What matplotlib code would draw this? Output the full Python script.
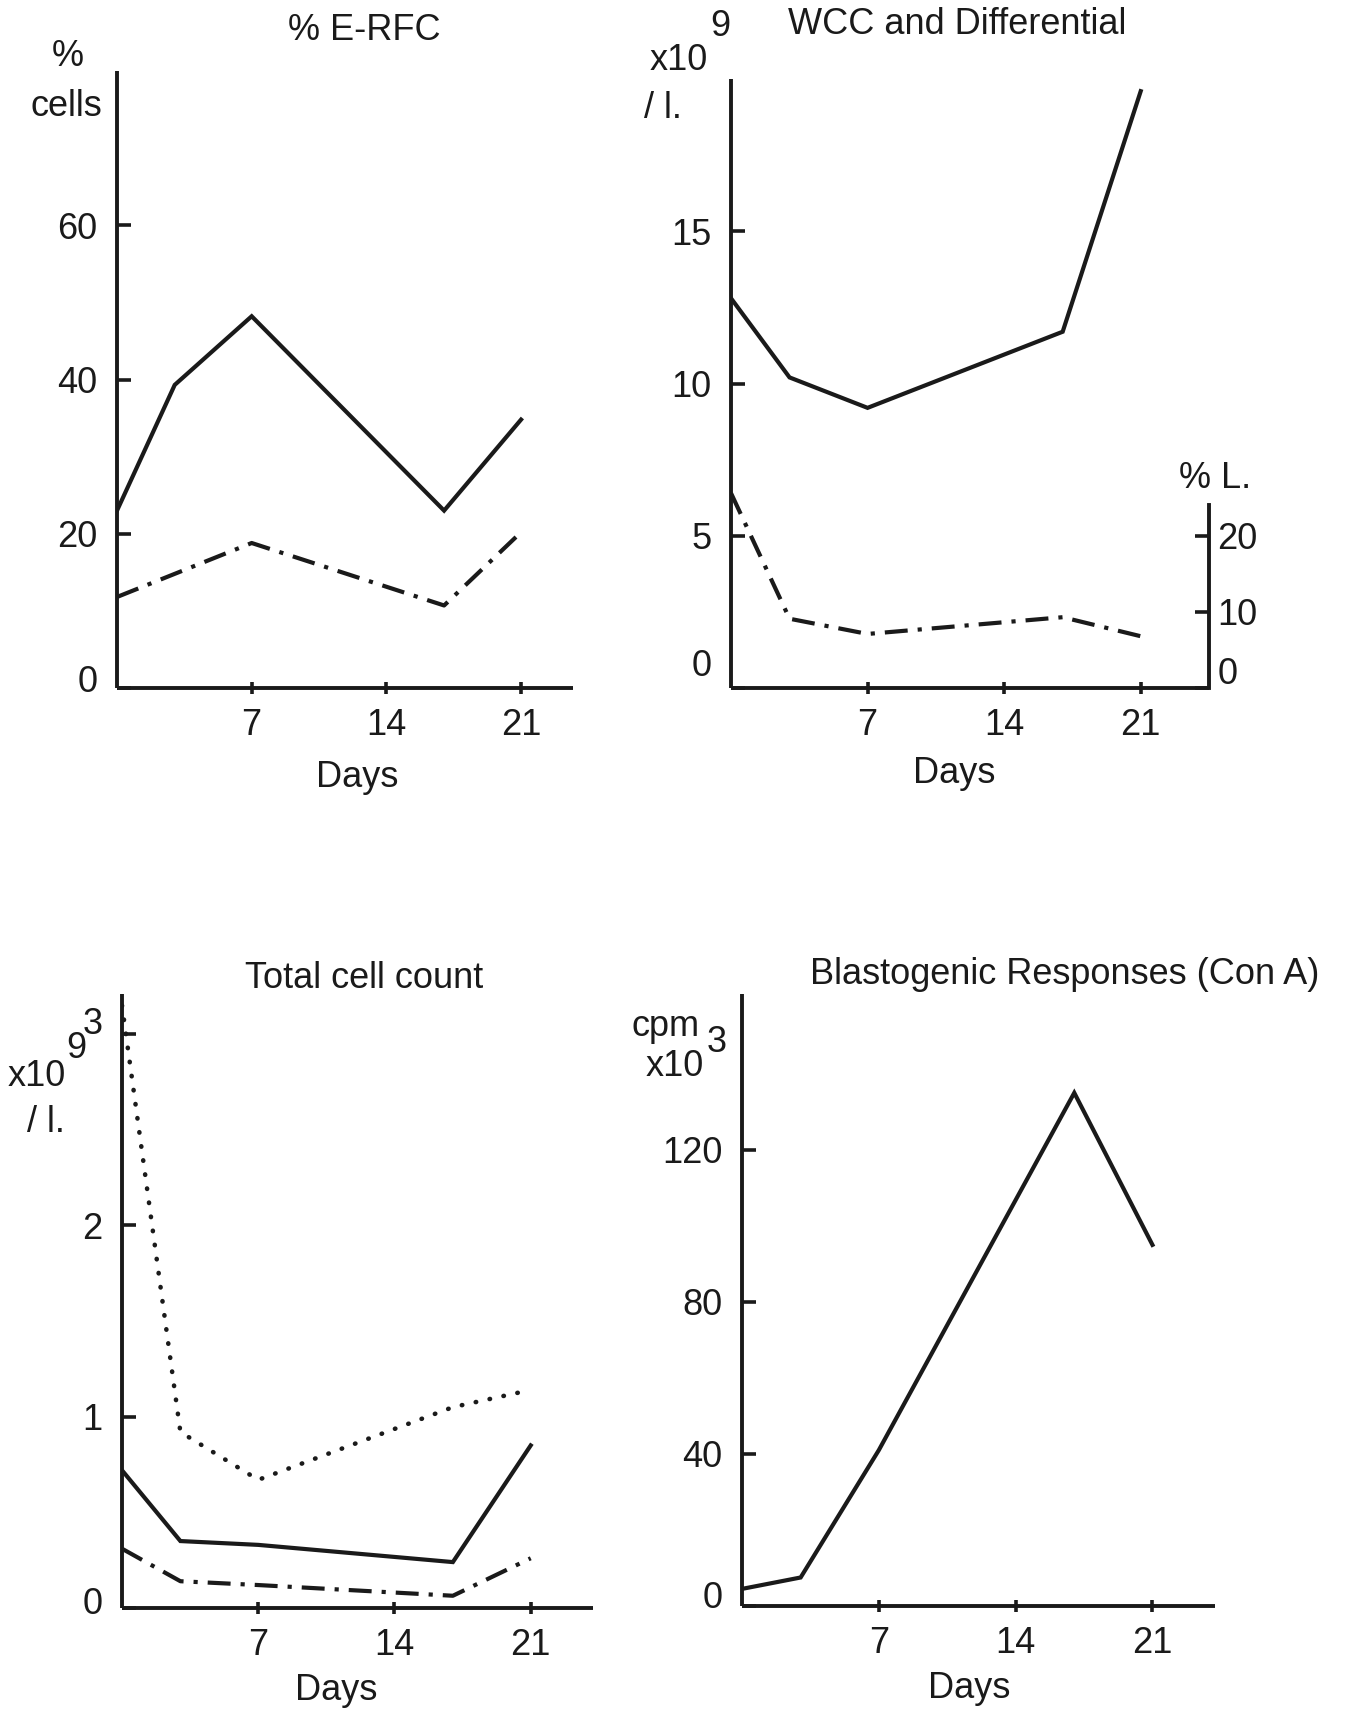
import matplotlib
matplotlib.use('Agg')
import matplotlib.pyplot as plt
import matplotlib.transforms as mtransforms

# ---------------- data ----------------
erfc_days = [0, 3, 7, 17, 21]
erfc_total = [23.0, 39.3, 48.2, 23.0, 34.8]
erfc_dd_days = [0, 7, 17, 21]
erfc_dd = [11.8, 18.8, 10.7, 20.2]

wcc_days = [0, 3, 7, 17, 21]
wcc_values = [12.8, 10.2, 9.2, 11.7, 19.6]
lymph_pct = [25.6, 9.1, 7.1, 9.3, 6.8]

tcc_days = [0, 3, 7, 17, 21]
tcc_dotted = [3.15, 0.92, 0.67, 1.05, 1.14]
tcc_solid = [0.72, 0.35, 0.33, 0.24, 0.85]
tcc_dashdot = [0.31, 0.14, 0.12, 0.064, 0.26]

blast_days = [0, 3, 7, 17, 21]
blast_cpm = [4.5, 7.5, 41, 135, 95]

xticks = [7, 14, 21]

# ---------------- style ----------------
plt.rcParams['font.family'] = ['Liberation Sans', 'DejaVu Sans']
FS = 26
INK = '#1a1a1a'
LW = 3.0
DASHDOT = (0, (5.5, 2.4, 1.0, 2.4))
DOTTED = (0, (0.1, 3.0))

W, H = 1349, 1713
fig = plt.figure(figsize=(W / 100, H / 100), dpi=100)


def rect(l, r, b, t):
    return [l / W, 1 - b / H, (r - l) / W, (b - t) / H]


def ftext(x, y, s, **kw):
    kw.setdefault('fontsize', FS)
    kw.setdefault('ha', 'center')
    kw.setdefault('va', 'center')
    fig.text(x / W, 1 - y / H, s, color=INK, **kw)


def shift_label(lbl, dy_px):
    lbl.set_transform(lbl.get_transform() +
                      mtransforms.ScaledTranslation(0, dy_px / 100, fig.dpi_scale_trans))


def style(ax, xmax, ymax, yticks):
    ax.set_xlim(0, xmax)
    ax.set_ylim(0, ymax)
    for s in ['top', 'right']:
        ax.spines[s].set_visible(False)
    for s in ['left', 'bottom']:
        ax.spines[s].set_linewidth(2.8)
        ax.spines[s].set_color(INK)
        ax.spines[s].set_capstyle('butt')
    ax.set_xticks(xticks)
    ax.set_yticks(yticks)
    ax.tick_params(axis='y', direction='in', length=10, width=2.6, colors=INK,
                   labelsize=FS, pad=14)
    ax.tick_params(axis='x', direction='inout', length=9, width=2.6, colors=INK,
                   labelsize=FS, pad=10)
    ax.patch.set_alpha(0)


# Panel 1: % E-RFC
ax1 = fig.add_axes(rect(117, 573, 688, 71))
ax1.plot(erfc_days, erfc_total, color=INK, lw=LW, solid_joinstyle='miter')
ax1.plot(erfc_dd_days, erfc_dd, color=INK, lw=LW, linestyle=DASHDOT)
style(ax1, 23.7, 80, [0, 20, 40, 60])
ftext(364, 31, '% E-RFC')
ftext(68, 57, '%')
ftext(66, 106, 'cells')
ftext(357, 778, 'Days')

# Panel 2: WCC and Differential
ax2 = fig.add_axes(rect(731, 1209, 688, 79))
ax2.plot(wcc_days, wcc_values, color=INK, lw=LW, solid_joinstyle='miter')
style(ax2, 24.5, 20, [0, 5, 10, 15])
ax2r = ax2.twinx()
ax2r.set_ylim(0, 80)
ax2r.plot(wcc_days, lymph_pct, color=INK, lw=LW, linestyle=DASHDOT)
for s in ['top', 'left', 'bottom']:
    ax2r.spines[s].set_visible(False)
ax2r.spines['right'].set_bounds(0, 24)
ax2r.spines['right'].set_linewidth(2.8)
ax2r.spines['right'].set_color(INK)
ax2r.set_yticks([0, 10, 20])
ax2r.tick_params(axis='y', direction='in', length=10, width=2.6, colors=INK,
                 labelsize=FS, pad=6)
ftext(957, 24, 'WCC and Differential')
ftext(708, 60, 'x10', ha='right')
ftext(710, 26, '9', ha='left')
ftext(644, 109, '/ l.', ha='left')
ftext(1215, 478, '% L.')
ftext(954, 773, 'Days')

# Panel 3: Total cell count
ax3 = fig.add_axes(rect(122, 593, 1608, 994))
ax3.plot(tcc_days, tcc_dotted, color=INK, lw=LW * 1.1, linestyle=DOTTED,
         dash_capstyle='round')
ax3.plot(tcc_days, tcc_solid, color=INK, lw=LW, solid_joinstyle='miter')
ax3.plot(tcc_days, tcc_dashdot, color=INK, lw=LW, linestyle=DASHDOT)
style(ax3, 24.2, 3.21, [0, 1, 2, 3])
ftext(364, 978, 'Total cell count')
ftext(66, 1077, 'x10', ha='right')
ftext(66, 1048, '9', ha='left')
ftext(27, 1123, '/ l.', ha='left')
ftext(336, 1691, 'Days')

# Panel 4: Blastogenic responses
ax4 = fig.add_axes(rect(742, 1215, 1606, 994))
ax4.plot(blast_days, blast_cpm, color=INK, lw=LW, solid_joinstyle='miter')
style(ax4, 24.2, 161, [0, 40, 80, 120])
ftext(1065, 975, 'Blastogenic Responses (Con A)')
ftext(700, 1026, 'cpm', ha='right')
ftext(704, 1067, 'x10', ha='right')
ftext(707, 1042, '3', ha='left')
ftext(969, 1688, 'Days')

# zero labels (and the top "3") sit a little off their ticks in the reference
fig.canvas.draw()
for ax, dy in [(ax1, 9), (ax2, 25), (ax3, 8), (ax4, 11)]:
    shift_label(ax.get_yticklabels()[0], dy)
shift_label(ax2r.get_yticklabels()[0], 18)
shift_label(ax3.get_yticklabels()[-1], 14)

fig.savefig('out.png', dpi=100, facecolor='white')
